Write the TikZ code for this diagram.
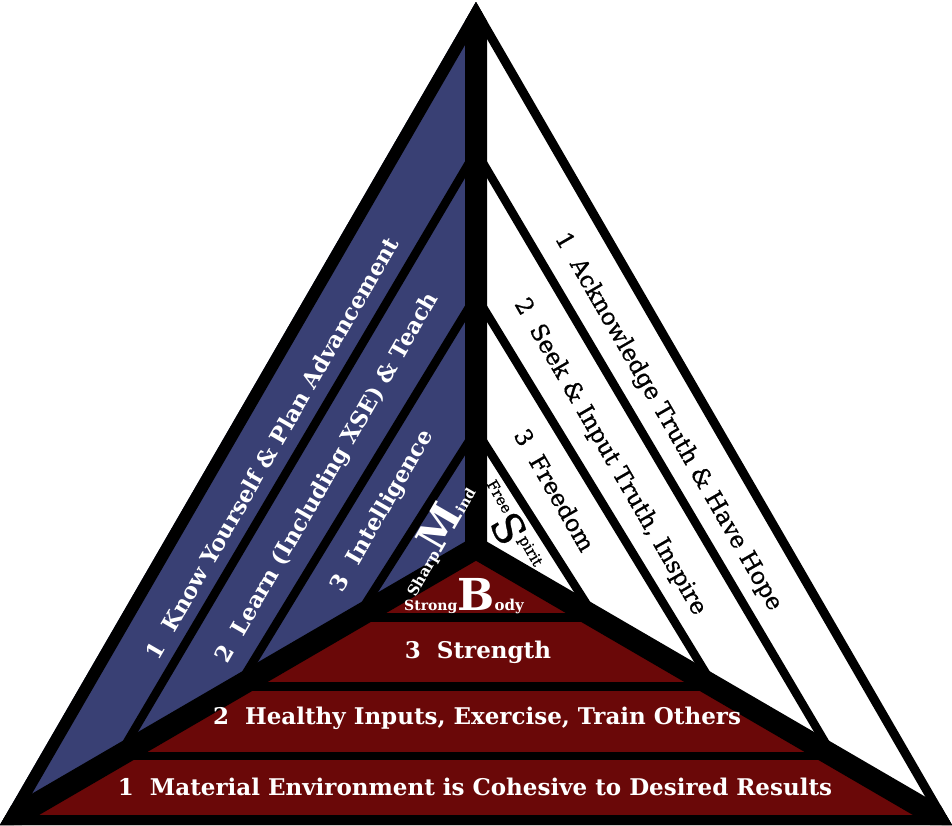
\documentclass[tikz,border=0pt]{standalone}
\usepackage{fontspec}
\setmainfont{DejaVu Serif}
\newfontfamily\spiritfont[FakeBold=0.8]{DejaVu Serif}
\usetikzlibrary{calc}
\definecolor{mindblue}{RGB}{57,64,116}
\definecolor{bodyred}{RGB}{106,8,8}

\begin{document}
\begin{tikzpicture}[x=1pt,y=-1pt,
    bodytext/.style={text=white,font=\bfseries\fontsize{23}{27}\selectfont},
    mindtext/.style={text=white,font=\bfseries\fontsize{22.5}{27}\selectfont,rotate=60},
    spirittext/.style={text=black,font=\spiritfont\fontsize{23.5}{28}\selectfont,rotate=-60}]
    \useasboundingbox (0,0) rectangle (952,825);
    \coordinate (A) at (476,2);
    \coordinate (L) at (0,825);
    \coordinate (R) at (952,825);
    \coordinate (C) at (476,548);
    \begin{scope}
        \clip (A) -- (L) -- (R) -- cycle;
        % three faces
        \fill[mindblue] (A) -- (C) -- (L) -- cycle;
        \fill[bodyred] (L) -- (C) -- (R) -- cycle;
        \fill[white] (R) -- (C) -- (A) -- cycle;
        % levels
        \foreach \t/\s in {0.25/0.273, 0.5/0.538, 0.75/0.784} {
                \draw[line width=8.5pt] ($(L)!\t!(C)$) -- ($(A)!\s!(C)$) -- ($(R)!\t!(C)$);
                \draw[line width=8.5pt] ($(L)!\t!(C)$) -- ($(R)!\t!(C)$);
            }
        % spokes and rim
        \draw[line width=22pt, line cap=round] (C) -- (A) (C) -- (L) (C) -- (R);
        \draw[line width=24pt] (A) -- (L);
        \draw[line width=18pt] (A) -- (R);
        \draw[line width=20pt] (L) -- (R);
    \end{scope}
    % Body
    \node[bodytext] (env) at (475,787) {1~~Material Environment is Cohesive to Desired Results};
    \node[bodytext] (healthy) at (477,718) {2~~Healthy Inputs, Exercise, Train Others};
    \node[bodytext] (strength) at (478,652) {3~~Strength};
    \node[bodytext] (body) at (464,596) {{\fontsize{14}{14}\selectfont Strong}{\fontsize{44}{44}\selectfont B}{\fontsize{15}{15}\selectfont ody}};
    % Mind
    \node[mindtext] (know) at (272,448) {1~~Know Yourself \& Plan Advancement};
    \node[mindtext] (learn) at (328,478) {2~~Learn (Including XSE) \& Teach};
    \node[mindtext] (intel) at (383,511) {3~~Intelligence};
    \node[mindtext] (mind) at (434,538) {{\fontsize{15}{15}\selectfont Sharp}{\fontsize{42}{42}\selectfont M}{\fontsize{14}{14}\selectfont ind}};
    % Spirit
    \node[spirittext] (hope) at (668,422) {1~~Acknowledge Truth \& Have Hope};
    \node[spirittext] (seek) at (610,457) {2~~Seek \& Input Truth, Inspire};
    \node[spirittext] (freedom) at (555,490) {3~~Freedom};
    \node[spirittext] (spirit) at (508,527) {\raisebox{18pt}{\fontsize{15}{15}\selectfont Free}{\fontsize{42}{42}\selectfont S}\raisebox{18pt}{\fontsize{15}{15}\selectfont pirit}};
\end{tikzpicture}
\end{document}
